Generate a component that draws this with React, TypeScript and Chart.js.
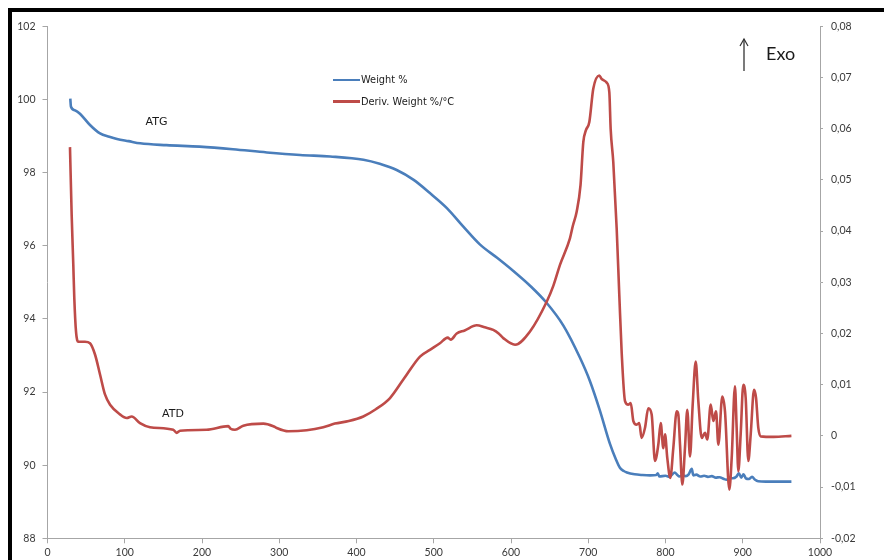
import React, { useEffect, useRef } from "react";
import { Chart, registerables } from "chart.js";

Chart.register(...registerables);

// Thermogravimetric run: weight (left axis) and its derivative (right axis) vs temperature (°C)
const weightTemp = [
  29.5, 30.4, 36, 42, 55, 68, 80, 90, 105, 120, 154, 197, 240, 284, 327, 366, 409, 430, 452,
  474, 495, 517, 538, 560, 582, 603, 625, 646, 668, 689, 702, 715, 728, 736, 741, 746, 750,
  760, 770, 780, 788, 790, 792, 800, 805, 808, 812, 815, 818, 822, 826, 830, 834, 836, 840,
  845, 850, 855, 860, 865, 870, 875, 879, 883, 887, 892, 895, 898, 901, 904, 908, 912, 916,
  920, 930, 945, 963,
];
const weightPct = [
  100.02, 99.8, 99.7, 99.61, 99.3, 99.07, 98.98, 98.92, 98.86, 98.8, 98.75, 98.71, 98.64,
  98.55, 98.48, 98.44, 98.35, 98.24, 98.07, 97.8, 97.44, 97.03, 96.53, 96.03, 95.67, 95.31,
  94.9, 94.44, 93.81, 92.95, 92.31, 91.5, 90.59, 90.15, 89.93, 89.84, 89.8, 89.75, 89.73,
  89.72, 89.73, 89.78, 89.69, 89.71, 89.68, 89.73, 89.8, 89.74, 89.69, 89.72, 89.7, 89.75,
  89.9, 89.72, 89.74, 89.69, 89.71, 89.68, 89.7, 89.66, 89.67, 89.63, 89.6, 89.66, 89.64,
  89.69, 89.78, 89.66, 89.75, 89.64, 89.62, 89.68, 89.6, 89.56, 89.55, 89.55, 89.55,
];

const derivTemp = [
  29.1, 31.3, 33.4, 34.7, 36.9, 39.9, 48.5, 55, 61.5, 68, 74.4, 81, 93.9, 102.5, 109, 119.7,
  132.7, 162.8, 167.2, 171.5, 206, 234, 237, 242.7, 253.5, 279.4, 292.3, 296, 311.7, 335.5,
  357, 372, 390, 408.8, 425, 443.4, 460.6, 482.2, 495, 508, 518, 522, 529.7, 540, 555.6, 566,
  577, 584, 590, 605.2, 624.6, 646.2, 655, 663.4, 676.3, 680, 685, 690, 693.6, 697, 701.4,
  706.5, 714.3, 717.4, 723.9, 727.3, 729, 732.4, 736.8, 740.2, 743.3, 747.6, 751.9, 755,
  758.4, 762.7, 766, 769.1, 773.5, 777.7, 782.1, 786.4, 790.7, 793.8, 797.2, 799.4, 802.3,
  806.2, 810.1, 814.5, 816.6, 818.8, 821.8, 825.2, 828.2, 831.7, 835.2, 839.1, 842.5, 846.9,
  851.2, 854.1, 858.5, 861.9, 865.4, 868.4, 873.5, 877, 882.6, 885.7, 889.9, 892.1, 894.3,
  897.3, 900.7, 903.8, 907.2, 910.3, 914.6, 917.2, 920.1, 923.2, 940, 963,
];
const derivValue = [
  0.0564, 0.0431, 0.0334, 0.0269, 0.0204, 0.0184, 0.0184, 0.0181, 0.0159, 0.012, 0.0081,
  0.0061, 0.0042, 0.0035, 0.0038, 0.0025, 0.0017, 0.0012, 0.0006, 0.001, 0.0012, 0.0019,
  0.0014, 0.0012, 0.002, 0.0024, 0.0019, 0.0016, 0.0009, 0.0011, 0.0017, 0.0024, 0.0029,
  0.0038, 0.0052, 0.0074, 0.011, 0.0155, 0.0168, 0.0181, 0.0192, 0.0188, 0.02, 0.0206,
  0.0216, 0.0212, 0.0207, 0.02, 0.0191, 0.0178, 0.0204, 0.0262, 0.0294, 0.0334, 0.0386,
  0.041, 0.0438, 0.049, 0.0574, 0.0597, 0.0613, 0.0678, 0.0704, 0.0697, 0.069, 0.0671, 0.06,
  0.0535, 0.0405, 0.0275, 0.0162, 0.0068, 0.0061, 0.0064, 0.0029, 0.0022, 0.0025, -0.0004,
  0.0016, 0.0054, 0.0042, -0.0049, -0.0017, 0.0025, -0.0024, 0.0003, -0.0043, -0.0082,
  -0.0024, 0.0048, 0.0042, -0.0017, -0.0095, -0.0024, 0.0051, -0.004, 0.0061, 0.0145,
  0.0068, -0.0004, 0.0006, -0.0007, 0.0061, 0.0029, 0.0048, -0.0017, 0.0077, 0.0048,
  -0.0105, -0.0043, 0.0097, 0.0016, -0.0069, 0.0003, 0.01, 0.0074, -0.0049, 0.0003, 0.009,
  0.0074, 0.0016, -0.0001, -0.0002, 0.0,
];

const legendLabels = ["Weight %", "Deriv. Weight %/°C"];
const curveLabels = ["ATG", "ATD"];
const xTicks = { min: 0, max: 1000, step: 100 };
const leftTicks = { min: 88, max: 102, step: 2 };
const rightTicks = { min: -0.02, max: 0.08, step: 0.01 };

const BLUE = "#4a7ebb";
const RED = "#be4b48";
const AXIS = "#a6a6a6";
const TEXT = "#3a3a3a";
const TICK_FONT = { family: "Lato", size: 10.5 };

const toPoints = (xs: number[], ys: number[]) => xs.map((x, i) => ({ x, y: ys[i] }));

const formatComma = (v: number) => {
  const r = Math.round(v * 100) / 100;
  if (r === 0) return "0";
  return r.toFixed(2).replace(".", ",");
};

function Label(props: { x: number; cy: number; size: number; family: string; children: React.ReactNode }) {
  return (
    <div
      style={{
        position: "absolute",
        left: props.x - 12,
        top: props.cy - 12,
        transform: "translateY(-50%)",
        fontFamily: props.family,
        fontSize: props.size,
        lineHeight: 1,
        color: "#1a1a1a",
        whiteSpace: "nowrap",
      }}
    >
      {props.children}
    </div>
  );
}

function LegendRow(props: { color: string; cy: number; text: string }) {
  return (
    <>
      <div
        style={{
          position: "absolute",
          left: 333 - 12,
          top: props.cy - 12 - 1.25,
          width: 27,
          height: 2.5,
          background: props.color,
        }}
      />
      <Label x={361} cy={props.cy} size={9.8} family="DejaVu Sans">
        {props.text}
      </Label>
    </>
  );
}

export default function App() {
  const canvasRef = useRef<HTMLCanvasElement | null>(null);

  useEffect(() => {
    if (!canvasRef.current) return;
    const chart = new Chart(canvasRef.current, {
      type: "line",
      data: {
        datasets: [
          {
            label: legendLabels[0],
            data: toPoints(weightTemp, weightPct),
            borderColor: BLUE,
            borderWidth: 2.6,
            pointRadius: 0,
            cubicInterpolationMode: "monotone",
            yAxisID: "y",
            order: 2,
          },
          {
            label: legendLabels[1],
            data: toPoints(derivTemp, derivValue),
            borderColor: RED,
            borderWidth: 2.6,
            pointRadius: 0,
            cubicInterpolationMode: "monotone",
            yAxisID: "y1",
            order: 1,
          },
        ],
      },
      options: {
        animation: false,
        responsive: false,
        maintainAspectRatio: false,
        layout: { padding: { top: 12, left: 0, right: 0, bottom: 0 } },
        plugins: { legend: { display: false }, tooltip: { enabled: false } },
        scales: {
          x: {
            type: "linear",
            position: "bottom",
            min: xTicks.min,
            max: xTicks.max,
            ticks: {
              stepSize: xTicks.step,
              color: TEXT,
              font: TICK_FONT,
              padding: 3,
              maxRotation: 0,
              callback: (v: any) => String(Math.round(Number(v))),
            },
            grid: { drawOnChartArea: false, tickLength: 5, color: AXIS },
            border: { color: AXIS, width: 1 },
            afterFit: (s: any) => {
              s.height = 21.7;
            },
          },
          y: {
            type: "linear",
            position: "left",
            min: leftTicks.min,
            max: leftTicks.max,
            ticks: {
              stepSize: leftTicks.step,
              color: TEXT,
              font: TICK_FONT,
              padding: 7,
              callback: (v: any) => String(Math.round(Number(v))),
            },
            grid: { drawOnChartArea: false, tickLength: 5, color: AXIS },
            border: { color: AXIS, width: 1 },
            afterFit: (s: any) => {
              s.width = 35.5;
            },
          },
          y1: {
            type: "linear",
            position: "right",
            min: rightTicks.min,
            max: rightTicks.max,
            ticks: {
              stepSize: rightTicks.step,
              color: TEXT,
              font: TICK_FONT,
              padding: 8,
              callback: (v: any) => formatComma(Number(v)),
            },
            grid: { drawOnChartArea: false, tickLength: 3, color: AXIS },
            border: { color: AXIS, width: 1 },
            afterFit: (s: any) => {
              s.width = 72;
            },
          },
        },
      },
    });
    return () => chart.destroy();
  }, []);

  return (
    <div
      style={{
        position: "relative",
        width: 880,
        height: 548,
        borderTop: "4px solid #000",
        borderLeft: "4px solid #000",
        background: "#fff",
      }}
    >
      <canvas ref={canvasRef} width={880} height={548} style={{ display: "block" }} />
      <LegendRow color={BLUE} cy={80} text={legendLabels[0]} />
      <LegendRow color={RED} cy={101.7} text={legendLabels[1]} />
      <Label x={145.5} cy={121} size={11} family="DejaVu Sans">
        {curveLabels[0]}
      </Label>
      <Label x={162} cy={413} size={11} family="DejaVu Sans">
        {curveLabels[1]}
      </Label>
      <Label x={766} cy={53} size={18} family="Lato">
        Exo
      </Label>
      <svg
        style={{ position: "absolute", left: 736 - 12, top: 36 - 12 }}
        width={16}
        height={40}
        viewBox="0 0 16 40"
      >
        <line x1={8} y1={3} x2={8} y2={35} stroke="#333" strokeWidth={1.3} />
        <polyline points="4,10 8,3 12,10" fill="none" stroke="#333" strokeWidth={1.2} />
      </svg>
    </div>
  );
}
